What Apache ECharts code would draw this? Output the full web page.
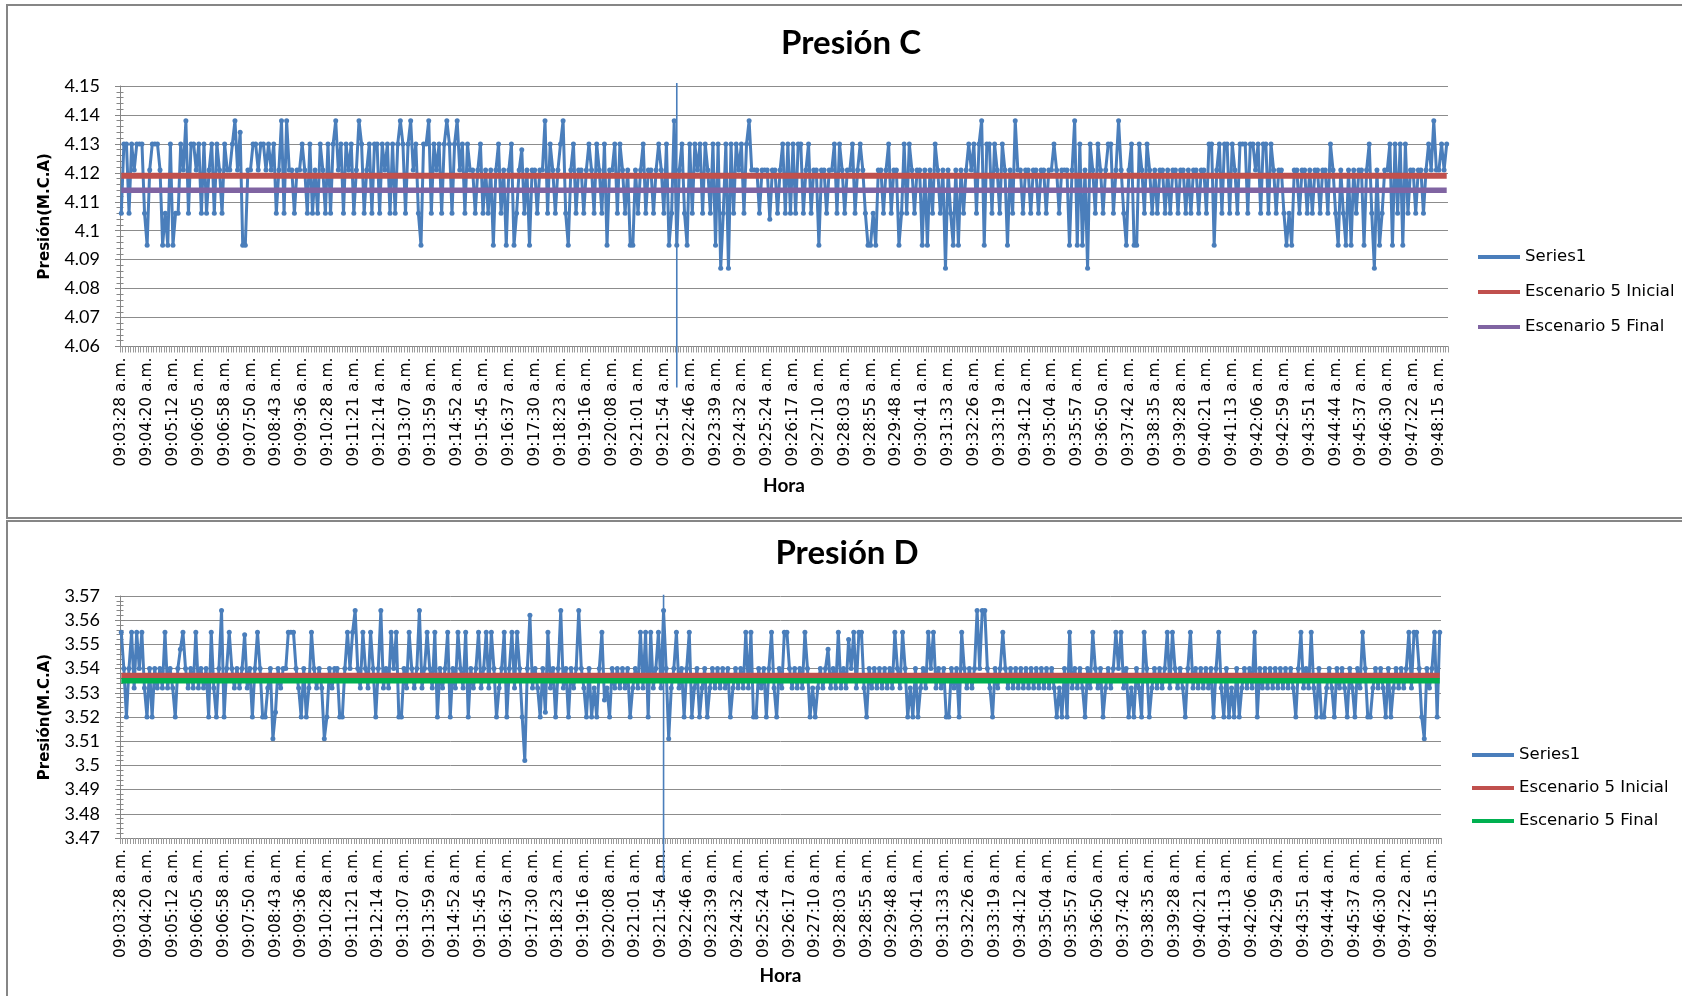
<!DOCTYPE html>
<html>
<head>
<meta charset="utf-8">
<script src="https://cdn.jsdelivr.net/npm/echarts@6/dist/echarts.min.js"></script>
<style>
  html, body { margin: 0; padding: 0; background: #ffffff; }
  #graficoC { position: absolute; left: 0; top: 0; width: 1682px; height: 519px; }
  #graficoD { position: absolute; left: 0; top: 519px; width: 1682px; height: 477px; }
</style>
</head>
<body>
<div id="graficoC"></div>
<div id="graficoD"></div>
<script>
// Etiquetas del eje de tiempo (una cada 10 muestras)
const horaEtiquetas = [
  '09:03:28 a.m.', '09:04:20 a.m.', '09:05:12 a.m.', '09:06:05 a.m.', '09:06:58 a.m.',
  '09:07:50 a.m.', '09:08:43 a.m.', '09:09:36 a.m.', '09:10:28 a.m.', '09:11:21 a.m.',
  '09:12:14 a.m.', '09:13:07 a.m.', '09:13:59 a.m.', '09:14:52 a.m.', '09:15:45 a.m.',
  '09:16:37 a.m.', '09:17:30 a.m.', '09:18:23 a.m.', '09:19:16 a.m.', '09:20:08 a.m.',
  '09:21:01 a.m.', '09:21:54 a.m.', '09:22:46 a.m.', '09:23:39 a.m.', '09:24:32 a.m.',
  '09:25:24 a.m.', '09:26:17 a.m.', '09:27:10 a.m.', '09:28:03 a.m.', '09:28:55 a.m.',
  '09:29:48 a.m.', '09:30:41 a.m.', '09:31:33 a.m.', '09:32:26 a.m.', '09:33:19 a.m.',
  '09:34:12 a.m.', '09:35:04 a.m.', '09:35:57 a.m.', '09:36:50 a.m.', '09:37:42 a.m.',
  '09:38:35 a.m.', '09:39:28 a.m.', '09:40:21 a.m.', '09:41:13 a.m.', '09:42:06 a.m.',
  '09:42:59 a.m.', '09:43:51 a.m.', '09:44:44 a.m.', '09:45:37 a.m.', '09:46:30 a.m.',
  '09:47:22 a.m.', '09:48:15 a.m.'
];
const muestrasPorEtiqueta = 10;

// Presión C (M.C.A), una fila por intervalo de etiqueta
const presionC = [
  4.106,4.130,4.130,4.106,4.130,4.121,4.130,4.130,4.130,4.106,
  4.095,4.121,4.130,4.130,4.130,4.121,4.095,4.106,4.095,4.130,
  4.095,4.106,4.106,4.130,4.121,4.138,4.106,4.130,4.130,4.121,
  4.130,4.106,4.130,4.106,4.121,4.130,4.106,4.130,4.121,4.106,
  4.130,4.121,4.121,4.130,4.138,4.121,4.134,4.095,4.095,4.121,
  4.121,4.130,4.130,4.121,4.130,4.130,4.121,4.130,4.121,4.130,
  4.106,4.121,4.138,4.106,4.138,4.121,4.121,4.106,4.121,4.121,
  4.130,4.121,4.106,4.130,4.106,4.121,4.106,4.130,4.121,4.106,
  4.130,4.106,4.130,4.138,4.121,4.130,4.106,4.130,4.121,4.130,
  4.106,4.121,4.138,4.130,4.106,4.121,4.130,4.106,4.130,4.130,
  4.106,4.130,4.121,4.130,4.106,4.130,4.106,4.130,4.138,4.130,
  4.106,4.130,4.138,4.121,4.130,4.106,4.095,4.130,4.130,4.138,
  4.106,4.130,4.121,4.130,4.106,4.130,4.138,4.130,4.106,4.130,
  4.138,4.121,4.130,4.106,4.130,4.121,4.121,4.106,4.121,4.130,
  4.106,4.121,4.106,4.121,4.095,4.121,4.130,4.106,4.121,4.095,
  4.121,4.130,4.095,4.106,4.121,4.128,4.106,4.121,4.095,4.121,
  4.121,4.106,4.121,4.121,4.138,4.106,4.130,4.121,4.106,4.121,
  4.130,4.138,4.106,4.095,4.121,4.130,4.106,4.121,4.121,4.106,
  4.121,4.130,4.121,4.106,4.130,4.121,4.106,4.130,4.095,4.121,
  4.121,4.130,4.106,4.130,4.121,4.106,4.121,4.095,4.095,4.121,
  4.106,4.121,4.130,4.106,4.121,4.121,4.106,4.121,4.130,4.121,
  4.106,4.130,4.095,4.106,4.138,4.095,4.121,4.130,4.106,4.095,
  4.130,4.106,4.130,4.121,4.130,4.106,4.130,4.121,4.106,4.130,
  4.095,4.130,4.087,4.106,4.130,4.087,4.130,4.106,4.130,4.121,
  4.130,4.106,4.130,4.138,4.121,4.121,4.121,4.106,4.121,4.121,
  4.121,4.104,4.121,4.121,4.106,4.121,4.130,4.106,4.130,4.106,
  4.130,4.106,4.130,4.130,4.106,4.121,4.130,4.106,4.121,4.121,
  4.095,4.121,4.121,4.106,4.121,4.121,4.130,4.106,4.130,4.121,
  4.106,4.121,4.121,4.130,4.106,4.121,4.130,4.121,4.106,4.095,
  4.095,4.106,4.095,4.121,4.121,4.106,4.121,4.130,4.106,4.121,
  4.121,4.095,4.106,4.130,4.106,4.130,4.121,4.106,4.121,4.121,
  4.095,4.121,4.095,4.121,4.106,4.130,4.121,4.106,4.121,4.087,
  4.121,4.106,4.095,4.121,4.095,4.121,4.106,4.121,4.130,4.121,
  4.130,4.106,4.130,4.138,4.095,4.130,4.130,4.106,4.130,4.121,
  4.106,4.130,4.121,4.095,4.121,4.106,4.138,4.121,4.121,4.106,
  4.121,4.121,4.106,4.121,4.121,4.106,4.121,4.121,4.106,4.121,
  4.121,4.130,4.121,4.106,4.121,4.121,4.121,4.095,4.121,4.138,
  4.095,4.130,4.095,4.121,4.087,4.130,4.121,4.106,4.130,4.121,
  4.106,4.121,4.130,4.130,4.106,4.121,4.138,4.121,4.106,4.095,
  4.121,4.130,4.095,4.095,4.130,4.121,4.106,4.130,4.121,4.106,
  4.121,4.106,4.121,4.121,4.106,4.121,4.106,4.121,4.121,4.106,
  4.121,4.121,4.106,4.121,4.106,4.121,4.121,4.106,4.121,4.121,
  4.106,4.130,4.130,4.095,4.121,4.130,4.106,4.130,4.130,4.106,
  4.130,4.121,4.106,4.130,4.130,4.130,4.106,4.130,4.130,4.121,
  4.130,4.106,4.130,4.130,4.106,4.130,4.121,4.106,4.121,4.121,
  4.106,4.095,4.106,4.095,4.121,4.121,4.106,4.121,4.121,4.106,
  4.121,4.106,4.121,4.121,4.106,4.121,4.121,4.106,4.130,4.121,
  4.106,4.095,4.121,4.106,4.095,4.121,4.095,4.121,4.106,4.121,
  4.121,4.095,4.121,4.130,4.106,4.087,4.121,4.095,4.106,4.121,
  4.121,4.130,4.095,4.130,4.106,4.130,4.095,4.130,4.106,4.121,
  4.121,4.106,4.121,4.121,4.106,4.121,4.130,4.121,4.138,4.121,
  4.121,4.130,4.121,4.130
];

// Presión D (M.C.A), una fila por intervalo de etiqueta
const presionD = [
  3.555,3.540,3.520,3.540,3.555,3.532,3.555,3.540,3.555,3.532,
  3.520,3.540,3.520,3.540,3.532,3.540,3.532,3.555,3.532,3.540,
  3.532,3.520,3.540,3.548,3.555,3.540,3.532,3.540,3.532,3.555,
  3.532,3.540,3.532,3.540,3.520,3.555,3.532,3.520,3.540,3.564,
  3.520,3.540,3.555,3.540,3.532,3.540,3.532,3.540,3.554,3.532,
  3.540,3.520,3.540,3.555,3.540,3.520,3.520,3.532,3.540,3.511,
  3.522,3.540,3.532,3.540,3.540,3.555,3.555,3.555,3.540,3.532,
  3.520,3.540,3.520,3.532,3.555,3.540,3.532,3.540,3.532,3.511,
  3.520,3.540,3.532,3.540,3.540,3.520,3.520,3.540,3.555,3.540,
  3.555,3.564,3.540,3.532,3.555,3.540,3.532,3.555,3.540,3.520,
  3.540,3.564,3.532,3.540,3.532,3.555,3.540,3.555,3.520,3.520,
  3.540,3.532,3.555,3.540,3.532,3.540,3.564,3.532,3.540,3.555,
  3.540,3.532,3.555,3.520,3.540,3.532,3.540,3.555,3.520,3.540,
  3.532,3.555,3.540,3.532,3.555,3.520,3.540,3.532,3.540,3.555,
  3.532,3.540,3.555,3.532,3.555,3.540,3.520,3.532,3.540,3.555,
  3.520,3.540,3.555,3.532,3.555,3.540,3.520,3.502,3.540,3.562,
  3.532,3.540,3.532,3.520,3.540,3.522,3.555,3.532,3.540,3.520,
  3.540,3.564,3.532,3.540,3.520,3.540,3.532,3.540,3.564,3.540,
  3.532,3.520,3.540,3.520,3.532,3.520,3.540,3.555,3.527,3.532,
  3.520,3.540,3.532,3.540,3.532,3.540,3.532,3.540,3.520,3.532,
  3.540,3.532,3.555,3.532,3.555,3.520,3.555,3.532,3.540,3.555,
  3.532,3.564,3.540,3.511,3.532,3.540,3.555,3.532,3.540,3.520,
  3.540,3.555,3.520,3.532,3.540,3.520,3.532,3.540,3.520,3.532,
  3.540,3.532,3.540,3.532,3.540,3.532,3.540,3.520,3.532,3.540,
  3.532,3.540,3.532,3.555,3.532,3.555,3.520,3.520,3.540,3.532,
  3.540,3.520,3.540,3.555,3.532,3.520,3.540,3.532,3.555,3.555,
  3.540,3.532,3.540,3.532,3.540,3.532,3.555,3.540,3.520,3.532,
  3.520,3.532,3.540,3.532,3.540,3.548,3.532,3.540,3.532,3.555,
  3.532,3.540,3.532,3.552,3.540,3.555,3.532,3.555,3.555,3.532,
  3.520,3.540,3.532,3.540,3.532,3.540,3.532,3.540,3.532,3.540,
  3.532,3.555,3.540,3.532,3.555,3.540,3.520,3.532,3.520,3.540,
  3.520,3.532,3.540,3.532,3.555,3.540,3.555,3.532,3.540,3.532,
  3.540,3.520,3.520,3.540,3.532,3.540,3.520,3.555,3.540,3.532,
  3.540,3.532,3.540,3.564,3.540,3.564,3.564,3.540,3.532,3.520,
  3.540,3.532,3.540,3.555,3.540,3.532,3.540,3.532,3.540,3.532,
  3.540,3.532,3.540,3.532,3.540,3.532,3.540,3.532,3.540,3.532,
  3.540,3.532,3.540,3.532,3.520,3.532,3.520,3.540,3.520,3.555,
  3.532,3.540,3.532,3.540,3.532,3.520,3.540,3.532,3.555,3.540,
  3.532,3.540,3.520,3.532,3.540,3.532,3.540,3.555,3.540,3.555,
  3.532,3.540,3.520,3.532,3.520,3.540,3.532,3.520,3.555,3.540,
  3.520,3.532,3.540,3.532,3.540,3.532,3.540,3.555,3.532,3.555,
  3.540,3.532,3.540,3.532,3.520,3.540,3.555,3.532,3.540,3.532,
  3.540,3.532,3.540,3.532,3.540,3.520,3.540,3.555,3.532,3.520,
  3.540,3.520,3.532,3.520,3.540,3.520,3.532,3.540,3.532,3.540,
  3.532,3.555,3.520,3.540,3.532,3.540,3.532,3.540,3.532,3.540,
  3.532,3.540,3.532,3.540,3.532,3.540,3.532,3.520,3.540,3.555,
  3.532,3.540,3.532,3.555,3.532,3.520,3.540,3.520,3.520,3.532,
  3.540,3.532,3.520,3.540,3.532,3.540,3.532,3.520,3.540,3.532,
  3.520,3.540,3.532,3.555,3.540,3.520,3.520,3.532,3.540,3.532,
  3.540,3.532,3.520,3.540,3.520,3.532,3.540,3.532,3.540,3.532,
  3.540,3.555,3.532,3.555,3.555,3.540,3.520,3.511,3.540,3.532,
  3.540,3.555,3.520,3.555
];

// Niveles de referencia de los escenarios
const inicialC = 4.119;
const finalC = 4.114;
const inicialD = 3.537;
const finalD = 3.535;

// Muestra en la que se trazó la línea vertical de cada gráfico
const marcaC = 215;
const marcaD = 211;

const AZUL = '#4A7EBB', ROJO = '#C0504D', MORADO = '#8064A2', VERDE = '#00B050', GRIS = '#868686';

function construirOpcion(cfg) {
  const valores = cfg.valores;
  const n = valores.length;
  const categorias = valores.map((_, i) => i);
  const nivel = v => [[0, v], [n - 1, v]];
  const ejeYBase = {
    type: 'value', gridIndex: 0, min: cfg.min, max: cfg.max, interval: 0.01
  };
  return {
    animation: false,
    backgroundColor: '#ffffff',
    title: {
      text: cfg.titulo, left: cfg.tituloX, top: cfg.tituloY,
      textAlign: 'center', textVerticalAlign: 'middle', padding: 0,
      textStyle: { fontFamily: 'Lato', fontWeight: 'bold', fontSize: 33, color: '#000' }
    },
    legend: {
      orient: 'vertical', left: cfg.leyendaX, top: cfg.leyendaY, padding: 0,
      itemGap: cfg.leyendaGap, itemWidth: 42, itemHeight: 4, icon: 'rect',
      selectedMode: false,
      textStyle: { fontFamily: 'DejaVu Sans', fontSize: 16.5, color: '#000', lineHeight: 20 },
      data: ['Series1', 'Escenario 5 Inicial', 'Escenario 5 Final']
    },
    grid: {
      left: 120, top: cfg.top, width: cfg.ancho, height: cfg.alto,
      containLabel: false, outerBoundsMode: 'none'
    },
    xAxis: {
      type: 'category', data: categorias, boundaryGap: true,
      axisLine: { show: true, onZero: false, lineStyle: { color: GRIS, width: 1 } },
      axisTick: { show: true, interval: 0, length: 6, lineStyle: { color: '#9a9a9a', width: 1 } },
      axisLabel: {
        interval: muestrasPorEtiqueta - 1, rotate: 90, margin: 11,
        fontFamily: 'DejaVu Sans', fontSize: 15.5, color: '#000',
        formatter: (v, i) => horaEtiquetas[i / muestrasPorEtiqueta] || ''
      },
      splitLine: { show: false },
      name: 'Hora', nameLocation: 'middle', nameGap: cfg.horaGap,
      nameTextStyle: { fontFamily: 'Lato', fontWeight: 'bold', fontSize: 19, color: '#000' }
    },
    yAxis: [
      Object.assign({}, ejeYBase, {
        position: 'left',
        axisLine: { show: true, lineStyle: { color: GRIS, width: 1 } },
        axisTick: { show: true, length: 5, lineStyle: { color: GRIS } },
        minorTick: { show: true, splitNumber: 5, length: 3.5, lineStyle: { color: GRIS } },
        splitLine: { show: true, lineStyle: { color: '#8c8c8c', width: 1 } },
        minorSplitLine: { show: false },
        axisLabel: { margin: 20, fontFamily: 'Lato', fontSize: 18, color: '#000' },
        name: 'Presión(M.C.A)', nameLocation: 'middle', nameRotate: 90, nameGap: 67,
        nameTextStyle: { fontFamily: 'DejaVu Sans', fontWeight: 'bold', fontSize: 15, color: '#000' }
      }),
      // ticks on the inner side of the value axis (cross-style marks)
      Object.assign({}, ejeYBase, {
        position: 'right', offset: -cfg.ancho,
        axisLine: { show: false },
        axisTick: { show: true, length: 5, lineStyle: { color: GRIS } },
        minorTick: { show: true, splitNumber: 5, length: 3.5, lineStyle: { color: GRIS } },
        splitLine: { show: false },
        axisLabel: { show: false }
      })
    ],
    graphic: [{
      type: 'rect', silent: true, z: -10,
      shape: { x: 7, y: cfg.marcoY, width: 1700, height: cfg.marcoAlto },
      style: { fill: 'none', stroke: GRIS, lineWidth: 2 }
    }],
    series: [
      {
        name: 'Series1', type: 'line', data: valores,
        symbol: 'circle', symbolSize: 5, showSymbol: true, showAllSymbol: true,
        lineStyle: { color: AZUL, width: 3, join: 'round' },
        itemStyle: { color: AZUL },
        emphasis: { disabled: true }
      },
      {
        name: 'Escenario 5 Inicial', type: 'line', data: nivel(cfg.inicial),
        symbol: 'none', lineStyle: { color: ROJO, width: 6 }, itemStyle: { color: ROJO },
        emphasis: { disabled: true }
      },
      {
        name: 'Escenario 5 Final', type: 'line', data: nivel(cfg.final),
        symbol: 'none', lineStyle: { color: cfg.colorFinal, width: 5.5 }, itemStyle: { color: cfg.colorFinal },
        emphasis: { disabled: true }
      },
      {
        name: 'marca', type: 'custom', silent: true, clip: false,
        data: [[cfg.marca, cfg.marcaArriba, cfg.marcaAbajo]],
        renderItem: (params, api) => {
          const a = api.coord([api.value(0), api.value(1)]);
          const b = api.coord([api.value(0), api.value(2)]);
          return {
            type: 'line',
            shape: { x1: a[0], y1: a[1], x2: b[0], y2: b[1] },
            style: { stroke: AZUL, lineWidth: 1.6 }
          };
        }
      }
    ]
  };
}

const graficoC = echarts.init(document.getElementById('graficoC'), null, { renderer: 'canvas' });
graficoC.setOption(construirOpcion({
  titulo: 'Presión C', tituloX: 851, tituloY: 43,
  valores: presionC, min: 4.06, max: 4.15,
  inicial: inicialC, final: finalC, colorFinal: MORADO,
  top: 86, alto: 260.5, ancho: 1328,
  leyendaX: 1478, leyendaY: 247, leyendaGap: 15,
  horaGap: 130, marcoY: 5, marcoAlto: 513,
  marca: marcaC, marcaArriba: 4.151, marcaAbajo: 4.0458
}));

const graficoD = echarts.init(document.getElementById('graficoD'), null, { renderer: 'canvas' });
graficoD.setOption(construirOpcion({
  titulo: 'Presión D', tituloX: 847, tituloY: 34.5,
  valores: presionD, min: 3.47, max: 3.57,
  inicial: inicialD, final: finalD, colorFinal: VERDE,
  top: 77, alto: 242, ancho: 1321,
  leyendaX: 1472, leyendaY: 226, leyendaGap: 13,
  horaGap: 122, marcoY: 2, marcoAlto: 600,
  marca: marcaD, marcaArriba: 3.5705, marcaAbajo: 3.4525
}));
</script>
</body>
</html>
